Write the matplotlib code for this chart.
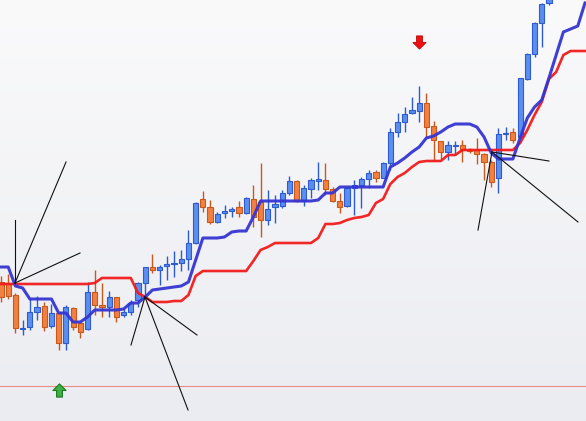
import numpy as np
import matplotlib
matplotlib.use("Agg")
import matplotlib.pyplot as plt
from matplotlib.path import Path

# candle data (open, high, low, close), one per bar
opens = [139, 138, 126, 92, 94, 109, 115, 95, 108, 78, 113, 98, 92, 129, 116, 114, 124, 106, 109, 121,
         138, 154, 151, 155, 157, 158, 162, 178, 222, 214, 199, 208, 210, 214, 208, 222, 219, 201, 214, 215,
         228, 240, 220, 232, 240, 241, 232, 220, 215, 233, 236, 242, 249, 243, 258, 289, 299, 308, 310, 318,
         295, 280, 269, 275, 276, 271, 271, 267, 259, 243, 287, 289, 284, 342, 367, 398, 418]
highs = [145, 147, 128, 101, 123, 125, 119, 117, 109, 116, 114, 99, 139, 151, 138, 130, 124, 112, 121, 139,
         154, 167, 156, 165, 170, 171, 191, 219, 230, 221, 209, 216, 214, 220, 224, 236, 258, 231, 226, 231,
         245, 241, 236, 243, 259, 258, 234, 228, 234, 241, 244, 251, 251, 259, 293, 308, 314, 324, 335, 328,
         300, 280, 280, 280, 281, 273, 283, 268, 261, 293, 294, 293, 343, 368, 399, 418, 456]
lows = [119, 122, 88, 86, 91, 101, 90, 93, 71, 71, 91, 83, 91, 106, 104, 104, 99, 104, 106, 114,
        123, 148, 136, 141, 144, 150, 151, 177, 209, 197, 198, 203, 204, 204, 207, 194, 184, 196, 198, 213,
        226, 219, 215, 223, 231, 226, 219, 208, 214, 206, 213, 233, 239, 243, 251, 284, 289, 307, 299, 284,
        261, 261, 261, 266, 259, 268, 257, 241, 234, 228, 281, 278, 283, 341, 364, 374, 416]
closes = [124, 125, 93, 93, 109, 114, 94, 108, 78, 114, 94, 89, 129, 116, 114, 124, 104, 109, 118, 138,
          154, 151, 154, 157, 158, 162, 178, 218, 214, 199, 207, 210, 212, 208, 223, 204, 201, 212, 217, 228,
          240, 220, 233, 241, 242, 232, 220, 214, 233, 236, 242, 248, 243, 258, 289, 299, 307, 311, 318, 294,
          281, 269, 276, 276, 271, 270, 267, 259, 239, 287, 288, 281, 343, 367, 398, 417, 451]

# indicator lines (fast = blue, slow = red)
fast_line = [154, 154, 135, 133, 122, 122, 122, 122, 108, 108, 99, 99, 104, 111, 111, 111, 111, 112, 118, 118,
             124, 131, 132, 133, 134, 135, 139, 161, 183, 183, 183, 184, 189, 190, 190, 204, 220, 220, 220, 220,
             220, 220, 220, 220, 221, 228, 228, 234, 234, 234, 234, 234, 234, 234, 254, 258, 263, 269, 274, 283,
             285, 289, 294, 297, 297, 297, 294, 284, 268, 262, 262, 262, 283, 303, 314, 321, 343, 366, 389, 392,
             395, 418]
slow_line = [137, 137, 137, 137, 137, 137, 137, 137, 137, 137, 137, 137, 137, 138, 143, 143, 143, 143, 143, 128,
             124, 119, 119, 119, 120, 120, 126, 145, 150, 150, 150, 150, 150, 150, 150, 160, 171, 174, 178, 178,
             178, 178, 178, 178, 183, 197, 197, 198, 201, 203, 204, 206, 218, 222, 237, 244, 248, 254, 259, 260,
             260, 260, 266, 266, 271, 271, 271, 271, 271, 271, 271, 271, 278, 291, 306, 319, 342, 349, 366, 370,
             370, 370]

# gann-style fans: origin (bar, price) and end points
fan_origins = [(1.94, 138), (19.97, 124), (68.1, 269)]
fan_ends = [[(1.94, 201), (9.02, 259), (10.96, 168)],
            [(18.03, 76), (25.94, 11), (27.18, 86)],
            [(66.16, 191), (76.0, 260), (80.03, 199)]]

level_price = 35
buy_signal = (8, 31)
sell_signal = (58, 379)

fig = plt.figure(figsize=(5.86, 4.21), dpi=100)
ax = fig.add_axes([0, 0, 1, 1])
x0, x1 = -0.139, 81.14
ax.set_xlim(x0, x1)
ax.set_ylim(0, 421)
ax.axis("off")

# soft vertical gradient background
grad = np.linspace(0, 1, 256).reshape(-1, 1)
bg = plt.matplotlib.colors.LinearSegmentedColormap.from_list("bg", ["#ebecf1", "#fafafb"])
ax.imshow(grad, cmap=bg, aspect="auto", extent=[x0, x1, 0, 421], origin="lower", zorder=0)

ax.axhline(level_price, color="#e88a8a", lw=0.8, zorder=1)

idx = np.arange(len(opens))
o = np.array(opens); h = np.array(highs); l = np.array(lows); c = np.array(closes)
up = c >= o
wick_col = np.where(up, "#2d5bd0", "#c8581c")
body_col = np.where(up, "#5b8eee", "#f28040")
ax.vlines(idx, l, h, colors=wick_col, lw=1.0, zorder=2)
bottom = np.minimum(o, c)
height = np.maximum(np.abs(c - o), 1.2)
ax.bar(idx, height, bottom=bottom, width=0.72, color=body_col, edgecolor=wick_col, linewidth=0.8, zorder=3)

ax.plot(np.arange(len(slow_line)), slow_line, color="#f21b1b", lw=1.9, alpha=0.95, zorder=4)
ax.plot(np.arange(len(fast_line)), fast_line, color="#3535d2", lw=2.2, alpha=0.95, zorder=5)

for (ox, oy), ends in zip(fan_origins, fan_ends):
    for ex, ey in ends:
        ax.plot([ox, ex], [oy, ey], color="#111111", lw=0.8, zorder=6)

# signal arrows
up_arrow = Path([(-0.22, -0.5), (0.22, -0.5), (0.22, 0.0), (0.5, 0.0), (0.0, 0.5),
                 (-0.5, 0.0), (-0.22, 0.0), (-0.22, -0.5)], closed=True)
down_arrow = Path([(x, -y) for x, y in up_arrow.vertices], closed=True)
ax.plot(*buy_signal, marker=up_arrow, ms=9.5, mfc="#3cb043", mec="#1d7a24", mew=0.8, zorder=7)
ax.plot(*sell_signal, marker=down_arrow, ms=9.5, mfc="#ee1111", mec="#c00000", mew=0.6, zorder=7)

fig.savefig("out.png", dpi=100)
